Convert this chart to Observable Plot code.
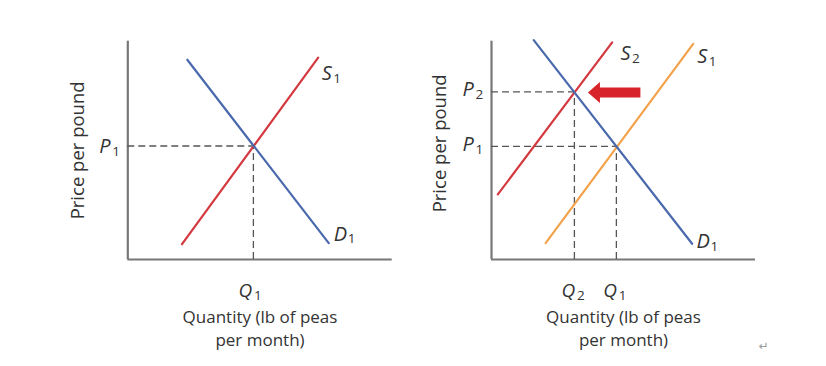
<!DOCTYPE html>
<html><head><meta charset="utf-8">
<script src="https://cdn.jsdelivr.net/npm/d3@7"></script>
<script src="https://cdn.jsdelivr.net/npm/@observablehq/plot@0.6"></script>
<style>
html,body{margin:0;padding:0;background:#fff;}
#wrap{display:flex;width:826px;height:366px;overflow:hidden;}
#wrap svg{flex:none;}
</style></head><body><div id="wrap"></div>
<script>
// ---- data (abstract units: quantity 0–10, price 0–10) ----
const leftD1 = [[2.25, 9.15], [7.6, 0.75]];
const leftS1 = [[2.05, 0.7], [7.2, 9.25]];
const leftEq = [{q: 4.75, p: 5.2, sub: "1"}];
const rightD1 = [[1.6, 10.05], [7.6, 0.72]];
const rightS2 = [[0.24, 2.98], [4.57, 9.95]];
const rightS1 = [[2.05, 0.75], [7.64, 9.88]];
const rightEq = [{q: 3.14, p: 7.68, sub: "2"}, {q: 4.73, p: 5.18, sub: "1"}];
const shiftArrow = [{from: 5.64, to: 4.05, p: 7.65}];
const axisTitleX = ["Quantity (lb of peas", "per month)"];
const axisTitleY = "Price per pound";
const lineNames = {D: "D", S: "S", P: "P", Q: "Q"};

// ---- style ----
const FONT = "Open Sans";
const TXT = "#333";
const AXIS = "#777";
const BLUE = "#4a69ad";
const RED = "#d3393f";
const ORANGE = "#f3a24c";
const ARROW = "#d7242a";
const LW = {S: 11.5, D: 14, P: 13, Q: 15.5};

const px = d => d[0], py = d => d[1];

function subLabel(data, o) {
  const fs = o.fontSize || 20;
  const base = {x: o.x, y: o.y, frameAnchor: o.frameAnchor, textAnchor: "start", lineAnchor: "middle", fill: TXT, fontFamily: FONT};
  return [
    Plot.text(data, {...base, text: () => lineNames[o.letter], dx: o.dx, dy: o.dy, fontSize: fs, fontStyle: "italic"}),
    Plot.text(data, {...base, text: typeof o.digit === "function" ? o.digit : () => o.digit, dx: o.dx + LW[o.letter], dy: o.dy + 5, fontSize: 13.5})
  ];
}

function frameMarks() {
  return [
    Plot.ruleX([0], {y1: 0, y2: 10, stroke: AXIS, strokeWidth: 2.2}),
    Plot.ruleY([0], {x1: 0, x2: 10, stroke: AXIS, strokeWidth: 2.2})
  ];
}

function dashMarks(eq) {
  return [
    Plot.ruleY(eq, {y: "p", x1: 0, x2: "q", stroke: "#555", strokeWidth: 1.3, strokeDasharray: "7,4"}),
    Plot.ruleX(eq, {x: "q", y1: 0, y2: "p", stroke: "#555", strokeWidth: 1.3, strokeDasharray: "7,4"})
  ];
}

function titles(yDx, yDy) {
  return [
    Plot.text([axisTitleY], {frameAnchor: "left", textAnchor: "middle", lineAnchor: "middle", rotate: -90, dx: yDx, dy: yDy, fontSize: 18.5, fill: TXT, fontFamily: FONT}),
    Plot.text([axisTitleX[0]], {frameAnchor: "bottom", textAnchor: "middle", lineAnchor: "middle", dy: 58, fontSize: 17, fill: TXT, fontFamily: FONT}),
    Plot.text([axisTitleX[1]], {frameAnchor: "bottom", textAnchor: "middle", lineAnchor: "middle", dy: 81.5, fontSize: 17, fill: TXT, fontFamily: FONT})
  ];
}

const common = {
  width: 413, height: 366, marginTop: 40.7, marginBottom: 107,
  x: {domain: [0, 10], axis: null}, y: {domain: [0, 10], axis: null},
  style: {background: "#fff", overflow: "visible"}
};

// ---- left panel ----
const left = Plot.plot({
  ...common, marginLeft: 127.3, marginRight: 21.3,
  marks: [
    ...frameMarks(),
    ...dashMarks(leftEq),
    Plot.line(leftS1, {x: px, y: py, stroke: RED, strokeWidth: 2.2}),
    Plot.line(leftD1, {x: px, y: py, stroke: BLUE, strokeWidth: 2.2}),
    ...subLabel([leftS1[1]], {x: px, y: py, letter: "S", digit: "1", dx: 3.5, dy: 16}),
    ...subLabel([leftD1[1]], {x: px, y: py, letter: "D", digit: "1", dx: 5, dy: -9}),
    ...subLabel(leftEq, {x: () => 0, y: "p", letter: "P", digit: d => d.sub, dx: -28.5, dy: 1}),
    ...subLabel(leftEq, {x: "q", y: () => 0, letter: "Q", digit: d => d.sub, dx: -15, dy: 31.5, fontSize: 19}),
    ...titles(-49.3, 0)
  ]
});

// ---- right panel ----
const headSymbol = {
  draw(ctx) {
    ctx.moveTo(1.5, -10.5);
    ctx.lineTo(-10.5, 0);
    ctx.lineTo(1.5, 10.5);
    ctx.closePath();
  }
};

const right = Plot.plot({
  ...common, marginLeft: 78, marginRight: 71,
  marks: [
    ...frameMarks(),
    ...dashMarks(rightEq),
    Plot.line(rightS2, {x: px, y: py, stroke: RED, strokeWidth: 2.2}),
    Plot.line(rightS1, {x: px, y: py, stroke: ORANGE, strokeWidth: 2.2}),
    Plot.line(rightD1, {x: px, y: py, stroke: BLUE, strokeWidth: 2.2}),
    Plot.link(shiftArrow, {x1: "from", x2: "to", y1: "p", y2: "p", stroke: ARROW, strokeWidth: 10, strokeLinecap: "butt"}),
    Plot.dot(shiftArrow, {x: "to", y: "p", symbol: headSymbol, fill: ARROW, stroke: "none", r: 5}),
    ...subLabel([rightS2[1]], {x: px, y: py, letter: "S", digit: "2", dx: 8.3, dy: 11}),
    ...subLabel([rightS1[1]], {x: px, y: py, letter: "S", digit: "1", dx: 4, dy: 13}),
    ...subLabel([rightD1[1]], {x: px, y: py, letter: "D", digit: "1", dx: 4.3, dy: -2.5}),
    ...subLabel(rightEq, {x: () => 0, y: "p", letter: "P", digit: d => d.sub, dx: -29, dy: -2}),
    ...subLabel(rightEq, {x: "q", y: () => 0, letter: "Q", digit: d => d.sub, dx: -13, dy: 31.5, fontSize: 19}),
    ...titles(-51, -7),
    Plot.text(["\u21B5"], {frameAnchor: "bottom-right", dx: 13, dy: 90, fontSize: 12, fill: "#999", fontFamily: "DejaVu Sans"})
  ]
});

document.getElementById("wrap").append(left, right);
</script>
</body></html>
